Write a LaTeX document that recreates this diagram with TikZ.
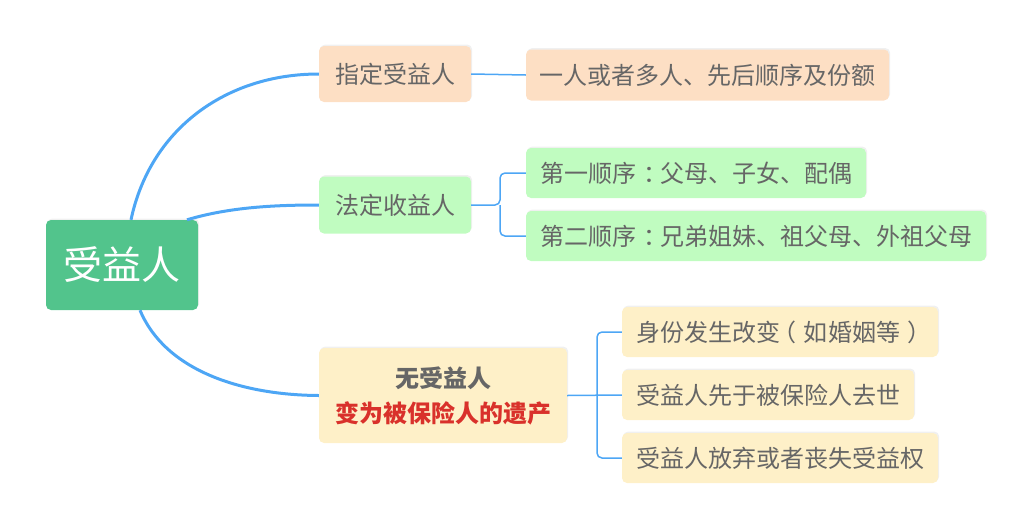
\documentclass[tikz,border=0pt]{standalone}
\usepackage{fontspec}
\setmainfont{Noto Sans CJK SC}
\usetikzlibrary{shadows}
\definecolor{rootc}{RGB}{82,196,140}
\definecolor{peach}{RGB}{253,223,196}
\definecolor{mint}{RGB}{192,252,192}
\definecolor{cream}{RGB}{254,240,200}
\definecolor{linec}{RGB}{77,166,245}
\definecolor{txt}{RGB}{102,102,102}
\definecolor{redt}{RGB}{217,49,43}
\newcommand{\cpunct}[2]{\hspace{#1}#2\hspace{-#1}}
\tikzset{
  box/.style={rounded corners=5pt, inner sep=0pt, align=center, text=txt,
    font=\fontsize{24}{28}\selectfont,
    drop shadow={opacity=0.12, shadow xshift=1.2pt, shadow yshift=1.5pt}},
  mainline/.style={draw=linec, line width=3pt},
  subline/.style={draw=linec, line width=1.5pt, rounded corners=5pt},
}
\begin{document}
\begin{tikzpicture}[x=1pt,y=-1pt]
\useasboundingbox (0,0) rectangle (1030,528);
\node[box, fill=rootc, text=white, minimum width=152pt, minimum height=90pt, font=\fontsize{39}{42}\selectfont] (root) at (122,265) {受益人};
\node[box, fill=peach, minimum width=152pt, minimum height=56pt] (n1) at (395,74) {指定受益人};
\node[box, fill=peach, minimum width=363pt, minimum height=51pt] (n1a) at (707.5,75) {一人或者多人、先后顺序及份额};
\node[box, fill=mint, minimum width=152pt, minimum height=57pt] (n2) at (395,205) {法定收益人};
\node[box, fill=mint, minimum width=340pt, minimum height=50pt] (n2a) at (696,173) {第一顺序\cpunct{0.3em}{：}父母、子女、配偶};
\node[box, fill=mint, minimum width=460pt, minimum height=50pt] (n2b) at (756,236) {第二顺序\cpunct{0.3em}{：}兄弟姐妹、祖父母、外祖父母};
\node[box, fill=cream, minimum width=248pt, minimum height=95pt, font=\fontsize{24}{35}\selectfont\bfseries] (n3) at (443,395.5) {无受益人\\\textcolor{redt}{变为被保险人的遗产}};
\node[box, fill=cream, minimum width=316pt, minimum height=50pt] (n3a) at (780,332) {身份发生改变\cpunct{-0.3em}{（}如婚姻等\cpunct{0.3em}{）}};
\node[box, fill=cream, minimum width=292pt, minimum height=50pt] (n3b) at (768,395) {受益人先于被保险人去世};
\node[box, fill=cream, minimum width=316pt, minimum height=50pt] (n3c) at (780,458) {受益人放弃或者丧失受益权};
% main curves
\draw[mainline] ([xshift=9pt]root.north) .. controls (150,130) and (225,74) .. (n1.west);
\draw[mainline] ([xshift=65pt]root.north) .. controls (230,207) and (275,205) .. (n2.west);
\draw[mainline] ([xshift=18pt]root.south) .. controls (165,370) and (240,395) .. (n3.west);
% branches
\coordinate (b2) at (500,205);
\coordinate (b3) at (597,395.5);
\draw[subline] (n1.east) -- (n1a.west);
\draw[subline] (n2.east) -- (b2) |- (n2a.west);
\draw[subline] (b2) |- (n2b.west);
\draw[subline] (n3.east) -- (n3b.west);
\draw[subline] (b3) |- (n3a.west);
\draw[subline] (b3) |- (n3c.west);
\end{tikzpicture}
\end{document}
